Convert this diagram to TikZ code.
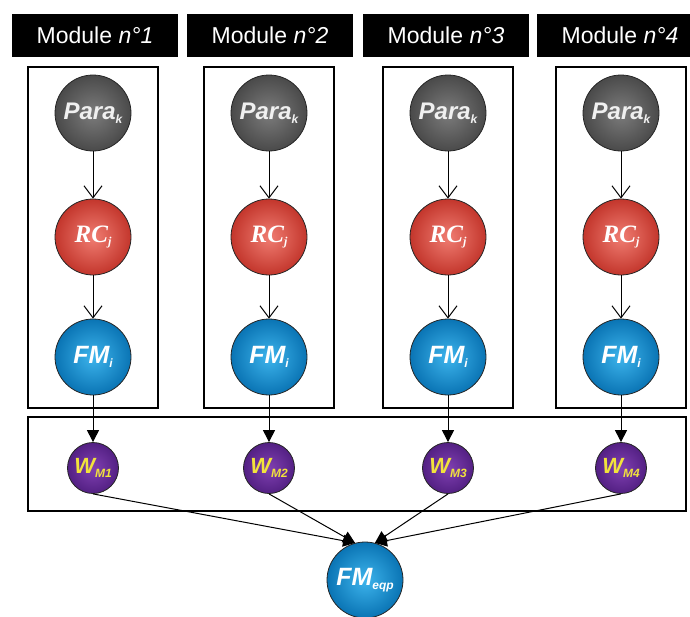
\documentclass[tikz,border=0pt]{standalone}
\usepackage{fontspec}
\setmainfont{Liberation Sans}
\newfontfamily\rcfont{Liberation Serif}
\usepackage{tikz}
\usetikzlibrary{arrows.meta, positioning, calc}

\definecolor{paradark}{HTML}{4A4A4A}
\definecolor{paralight}{HTML}{7C7C7C}
\definecolor{rcdark}{HTML}{C3362C}
\definecolor{rclight}{HTML}{F07D72}
\definecolor{fmdark}{HTML}{0A74B4}
\definecolor{fmlight}{HTML}{3DB4EC}
\definecolor{wdark}{HTML}{532083}
\definecolor{wlight}{HTML}{8040B2}
\definecolor{wtext}{HTML}{F2E33C}

\newcommand{\lowsub}[1]{\raisebox{-0.3ex}{\fontsize{12}{13}\selectfont #1}}

\tikzset{
  header/.style={fill=black, text=white, minimum width=166pt, minimum height=43pt, inner sep=0pt, font=\fontsize{23}{25}\selectfont},
  ball/.style={circle, draw=black!85, line width=0.8pt, minimum size=76pt, inner sep=0pt, text=white, font=\fontsize{25}{26}\selectfont\bfseries\itshape},
  parank/.style={ball, inner color=paralight, outer color=paradark, text=black!6, font=\fontsize{24}{26}\selectfont\bfseries\itshape},
  rcnode/.style={ball, inner color=rclight, outer color=rcdark, font=\fontsize{25}{26}\selectfont\rcfont\bfseries\itshape},
  fmnode/.style={ball, inner color=fmlight, outer color=fmdark},
  wnode/.style={ball, minimum size=51pt, inner color=wlight, outer color=wdark, text=wtext, font=\fontsize{22}{24}\selectfont\bfseries\itshape},
  openarrow/.style={-{Straight Barb[length=12pt, width=18pt]}, line width=1pt},
  fullarrow/.style={-{Triangle[length=12pt, width=12pt]}, line width=1pt}
}

\begin{document}
\begin{tikzpicture}[x=1pt, y=-1pt]
    \useasboundingbox (0,0) rectangle (690,616);
    \clip (0,0) rectangle (690,616);

    % Modules
    \foreach \i/\x/\hx in {1/93/95, 2/269/270, 3/448/446, 4/621/620} {
        \node[header] (head\i) at (\hx,35.5) {Module \textit{n°\i}};
        \draw[line width=1.2pt] (\x-65,67) rectangle (\x+65,408);
        \node[parank] (para\i) at (\x,113) {Para\lowsub{k}};
        \node[rcnode] (rc\i) at (\x,237) {RC\lowsub{j}};
        \node[fmnode] (fm\i) at (\x,357) {FM\lowsub{i}};
        \node[wnode] (w\i) at (\x,468) {W\lowsub{M\i}};
        \draw[openarrow] (para\i) -- (rc\i);
        \draw[openarrow] (rc\i) -- (fm\i);
        \draw[fullarrow] (fm\i) -- (w\i);
    }

    % Weights
    \draw[line width=1.2pt] (28,417) rectangle (686,511);

    % Equivalent
    \node[fmnode] (fmeqp) at (365,580) {FM\lowsub{eqp}};
    \draw[fullarrow] (w1.south) -- (fmeqp.105);
    \draw[fullarrow] (w2.south) -- (fmeqp.105);
    \draw[fullarrow] (w3.south) -- (fmeqp.75);
    \draw[fullarrow] (w4.south) -- (fmeqp.75);

\end{tikzpicture}
\end{document}
